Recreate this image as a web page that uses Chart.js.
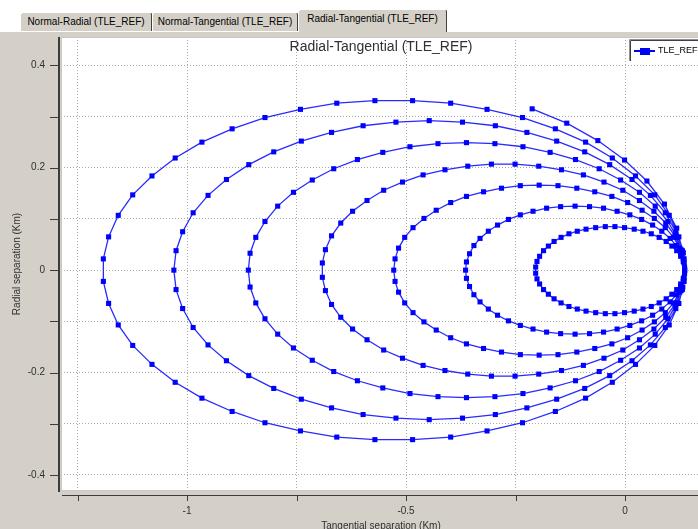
<!DOCTYPE html>
<html>
<head>
<meta charset="utf-8">
<script src="https://cdn.jsdelivr.net/npm/chart.js@4.4.1/dist/chart.umd.min.js"></script>
<style>
html,body{margin:0;padding:0;}
body{width:698px;height:529px;overflow:hidden;position:relative;background:#ffffff;font-family:"Liberation Sans",Arial,sans-serif;}
#panel{position:absolute;left:0;top:31px;width:698px;height:498px;background:#d4d0c8;border-top:1px solid #ffffff;box-sizing:border-box;}
.tab{position:absolute;top:12px;height:19px;box-sizing:border-box;background:#d4d0c8;border-top:1px solid #ffffff;border-left:1px solid #ffffff;border-right:1px solid #404040;border-top-left-radius:3px;border-top-right-radius:3px;font-size:10px;color:#000;text-align:center;line-height:17px;white-space:nowrap;}
.tab.sel{top:9px;height:23px;z-index:2;line-height:18px;}
#wrap{position:absolute;left:0;top:31px;width:720px;height:520px;}
</style>
</head>
<body>
<div id="panel"></div>
<div class="tab" style="left:20px;width:132px;">Normal-Radial (TLE_REF)</div>
<div class="tab" style="left:152px;width:146px;">Normal-Tangential (TLE_REF)</div>
<div class="tab sel" style="left:298px;width:149px;">Radial-Tangential (TLE_REF)</div>
<div id="wrap"><canvas id="c" width="720" height="520"></canvas></div>
<script>
// ---- data (Km), one array pair per revolution ----
const seriesName = 'TLE_REF';
const chartTitle = 'Radial-Tangential (TLE_REF)';
const xTitle = 'Tangential separation (Km)';
const yTitle = 'Radial separation (Km)';

const loop1Tangential = [0.136,0.133,0.127,0.118,0.107,0.094,0.078,0.060,0.041,0.021,-0.001,-0.023,-0.045,-0.067,-0.089,-0.109,-0.128,-0.146,-0.162,-0.175,-0.186,-0.195,-0.201,-0.204,-0.204,-0.201,-0.195,-0.186,-0.175,-0.162,-0.146,-0.128,-0.109,-0.089,-0.067,-0.045,-0.023,-0.001,0.021,0.041,0.060,0.078,0.094,0.107,0.118,0.127,0.133,0.136];
const loop1Radial = [0.006,0.017,0.027,0.038,0.047,0.056,0.064,0.071,0.076,0.080,0.083,0.085,0.085,0.083,0.080,0.076,0.071,0.064,0.056,0.047,0.038,0.027,0.017,0.006,-0.006,-0.017,-0.027,-0.038,-0.047,-0.056,-0.064,-0.071,-0.076,-0.080,-0.083,-0.085,-0.085,-0.083,-0.080,-0.076,-0.071,-0.064,-0.056,-0.047,-0.038,-0.027,-0.017,-0.006];

const loop2Tangential = [0.136,0.134,0.127,0.117,0.103,0.084,0.063,0.038,0.011,-0.018,-0.049,-0.081,-0.114,-0.147,-0.179,-0.210,-0.239,-0.266,-0.291,-0.312,-0.331,-0.345,-0.355,-0.362,-0.364,-0.362,-0.355,-0.345,-0.331,-0.312,-0.291,-0.266,-0.239,-0.210,-0.179,-0.147,-0.114,-0.081,-0.049,-0.018,0.011,0.038,0.063,0.084,0.103,0.117,0.127,0.134];
const loop2Radial = [0,0.016,0.032,0.048,0.062,0.076,0.088,0.099,0.108,0.115,0.121,0.124,0.125,0.124,0.121,0.115,0.108,0.099,0.088,0.076,0.062,0.048,0.032,0.016,0,-0.016,-0.032,-0.048,-0.062,-0.076,-0.088,-0.099,-0.108,-0.115,-0.121,-0.124,-0.125,-0.124,-0.121,-0.115,-0.108,-0.099,-0.088,-0.076,-0.062,-0.048,-0.032,-0.016];

const loop3Tangential = [0.136,0.133,0.125,0.111,0.092,0.067,0.039,0.006,-0.030,-0.069,-0.110,-0.153,-0.196,-0.239,-0.282,-0.323,-0.362,-0.398,-0.431,-0.459,-0.484,-0.503,-0.517,-0.525,-0.528,-0.525,-0.517,-0.503,-0.484,-0.459,-0.431,-0.398,-0.362,-0.323,-0.282,-0.239,-0.196,-0.153,-0.110,-0.069,-0.030,0.006,0.039,0.067,0.092,0.111,0.125,0.133];
const loop3Radial = [0,0.022,0.043,0.064,0.083,0.101,0.117,0.132,0.144,0.153,0.160,0.165,0.166,0.165,0.160,0.153,0.144,0.132,0.117,0.101,0.083,0.064,0.043,0.022,0,-0.022,-0.043,-0.064,-0.083,-0.101,-0.117,-0.132,-0.144,-0.153,-0.160,-0.165,-0.166,-0.165,-0.160,-0.153,-0.144,-0.132,-0.117,-0.101,-0.083,-0.064,-0.043,-0.022];

const loop4Tangential = [0.135,0.128,0.114,0.093,0.066,0.033,-0.005,-0.048,-0.095,-0.145,-0.197,-0.251,-0.305,-0.359,-0.411,-0.461,-0.508,-0.551,-0.589,-0.622,-0.649,-0.670,-0.684,-0.691,-0.691,-0.684,-0.670,-0.649,-0.622,-0.589,-0.551,-0.508,-0.461,-0.411,-0.359,-0.305,-0.251,-0.197,-0.145,-0.095,-0.048,-0.005,0.033,0.066,0.093,0.114,0.128,0.135];
const loop4Radial = [0.014,0.040,0.067,0.092,0.115,0.136,0.156,0.172,0.186,0.196,0.203,0.207,0.207,0.203,0.196,0.186,0.172,0.156,0.136,0.115,0.092,0.067,0.040,0.014,-0.014,-0.040,-0.067,-0.092,-0.115,-0.136,-0.156,-0.172,-0.186,-0.196,-0.203,-0.207,-0.207,-0.203,-0.196,-0.186,-0.172,-0.156,-0.136,-0.115,-0.092,-0.067,-0.040,-0.014];

const loop5Tangential = [0.136,0.132,0.119,0.098,0.069,0.033,-0.010,-0.059,-0.113,-0.171,-0.233,-0.297,-0.362,-0.427,-0.491,-0.553,-0.611,-0.665,-0.714,-0.757,-0.793,-0.822,-0.843,-0.856,-0.860,-0.856,-0.843,-0.822,-0.793,-0.757,-0.714,-0.665,-0.611,-0.553,-0.491,-0.427,-0.362,-0.297,-0.233,-0.171,-0.113,-0.059,-0.010,0.033,0.069,0.098,0.119,0.132];
const loop5Radial = [0,0.033,0.064,0.095,0.125,0.152,0.176,0.198,0.216,0.230,0.241,0.247,0.249,0.247,0.241,0.230,0.216,0.198,0.176,0.152,0.125,0.095,0.064,0.033,0,-0.033,-0.064,-0.095,-0.125,-0.152,-0.176,-0.198,-0.216,-0.230,-0.241,-0.247,-0.249,-0.247,-0.241,-0.230,-0.216,-0.198,-0.176,-0.152,-0.125,-0.095,-0.064,-0.033];

const loop6Tangential = [0.136,0.131,0.116,0.092,0.058,0.016,-0.035,-0.092,-0.156,-0.224,-0.296,-0.371,-0.447,-0.523,-0.598,-0.670,-0.739,-0.802,-0.859,-0.910,-0.952,-0.986,-1.010,-1.025,-1.030,-1.025,-1.010,-0.986,-0.952,-0.910,-0.859,-0.802,-0.739,-0.670,-0.598,-0.523,-0.447,-0.371,-0.296,-0.224,-0.156,-0.092,-0.035,0.016,0.058,0.092,0.116,0.131];
const loop6Radial = [0,0.038,0.075,0.112,0.146,0.177,0.206,0.231,0.252,0.269,0.282,0.289,0.292,0.289,0.282,0.269,0.252,0.231,0.206,0.177,0.146,0.112,0.075,0.038,0,-0.038,-0.075,-0.112,-0.146,-0.177,-0.206,-0.231,-0.252,-0.269,-0.282,-0.289,-0.292,-0.289,-0.282,-0.269,-0.252,-0.231,-0.206,-0.177,-0.146,-0.112,-0.075,-0.038];

const loop7Tangential = [0.135,0.123,0.101,0.068,0.024,-0.029,-0.090,-0.159,-0.234,-0.315,-0.398,-0.485,-0.571,-0.658,-0.741,-0.822,-0.897,-0.966,-1.027,-1.080,-1.124,-1.157,-1.179,-1.191,-1.191,-1.179,-1.157,-1.124,-1.080,-1.027,-0.966,-0.897,-0.822,-0.741,-0.658,-0.571,-0.485,-0.398,-0.315,-0.234,-0.159,-0.090,-0.029,0.024,0.068,0.101,0.123,0.135];
const loop7Radial = [0.022,0.065,0.107,0.147,0.184,0.219,0.250,0.276,0.298,0.314,0.326,0.331,0.331,0.326,0.314,0.298,0.276,0.250,0.219,0.184,0.147,0.107,0.065,0.022,-0.022,-0.065,-0.107,-0.147,-0.184,-0.219,-0.250,-0.276,-0.298,-0.314,-0.326,-0.331,-0.331,-0.326,-0.314,-0.298,-0.276,-0.250,-0.219,-0.184,-0.147,-0.107,-0.065,-0.022];

const loop8Tangential = [0.133,0.118,0.090,0.050,-0.001,-0.062,-0.133,-0.212];
const loop8Radial = [0.034,0.082,0.129,0.174,0.215,0.253,0.287,0.315];

const tangentialTicks = [-1.25,-1,-0.75,-0.5,-0.25,0];
const tangentialTickLabels = ['','-1','','-0.5','','0'];
const radialTicks = [-0.4,-0.3,-0.2,-0.1,0,0.1,0.2,0.3,0.4];
const radialTickLabels = ['-0.4','','-0.2','','0','','0.2','','0.4'];

// ---- build the single dataset ----
const loops = [
  [loop1Tangential, loop1Radial],[loop2Tangential, loop2Radial],[loop3Tangential, loop3Radial],
  [loop4Tangential, loop4Radial],[loop5Tangential, loop5Radial],[loop6Tangential, loop6Radial],
  [loop7Tangential, loop7Radial],[loop8Tangential, loop8Radial]
];
const points = [];
loops.forEach(([tx, ry]) => tx.forEach((v, i) => points.push({x: v, y: ry[i]})));

const FONT = '"Liberation Sans", Arial, sans-serif';
const TXT = '#303030';

const deco = {
  id: 'deco',
  beforeDraw(chart) {
    const {ctx, chartArea: a} = chart;
    ctx.save();
    ctx.fillStyle = '#ffffff';
    ctx.fillRect(a.left, a.top, a.right - a.left, a.bottom - a.top);
    ctx.restore();
  },
  afterDraw(chart) {
    const {ctx, chartArea: a, scales} = chart;
    ctx.save();
    // plot border
    ctx.strokeStyle = '#c8c8c8'; ctx.lineWidth = 1;
    ctx.strokeRect(a.left + 0.5, a.top + 0.5, a.right - a.left - 1, a.bottom - a.top - 1);
    // axis lines
    ctx.fillStyle = '#3c3c3c';
    ctx.fillRect(a.left - 3, a.top, 2, a.bottom - a.top + 1);
    ctx.fillRect(a.left + 1, a.bottom + 4, chart.width, 1);
    // tick marks
    ctx.strokeStyle = '#3c3c3c'; ctx.lineWidth = 1;
    scales.y.ticks.forEach(t => {
      const p = Math.round(scales.y.getPixelForValue(t.value)) + 0.5;
      ctx.beginPath(); ctx.moveTo(a.left - 11, p); ctx.lineTo(a.left - 3, p); ctx.stroke();
    });
    scales.x.ticks.forEach(t => {
      const p = Math.round(scales.x.getPixelForValue(t.value)) + 0.5;
      ctx.beginPath(); ctx.moveTo(p, a.bottom + 5); ctx.lineTo(p, a.bottom + 10); ctx.stroke();
    });
    // chart title
    ctx.fillStyle = TXT;
    ctx.font = '14px ' + FONT;
    ctx.textAlign = 'center'; ctx.textBaseline = 'middle';
    ctx.fillText(chartTitle, 381, 16);
    // legend box
    const lx = 629, ly = 8;
    ctx.fillStyle = '#ffffff';
    ctx.fillRect(lx, ly, 100, 22);
    ctx.strokeStyle = '#909090';
    ctx.beginPath(); ctx.moveTo(lx + 0.5, ly + 22); ctx.lineTo(lx + 0.5, ly + 0.5); ctx.lineTo(lx + 100, ly + 0.5); ctx.stroke();
    ctx.strokeStyle = '#404040';
    ctx.beginPath(); ctx.moveTo(lx + 1.5, ly + 22); ctx.lineTo(lx + 1.5, ly + 1.5); ctx.lineTo(lx + 100, ly + 1.5); ctx.stroke();
    const ds = chart.data.datasets[0];
    ctx.strokeStyle = '#0000ff'; ctx.lineWidth = 2;
    ctx.beginPath(); ctx.moveTo(lx + 5, ly + 12); ctx.lineTo(lx + 26, ly + 12); ctx.stroke();
    ctx.fillStyle = '#0000ff';
    ctx.fillRect(lx + 11, ly + 9, 10, 7);
    ctx.fillStyle = '#000000';
    ctx.font = '9px ' + FONT;
    ctx.textAlign = 'left';
    ctx.fillText(ds.label, lx + 29, ly + 12);
    ctx.restore();
  }
};

new Chart(document.getElementById('c'), {
  type: 'scatter',
  data: {
    datasets: [{
      label: seriesName,
      data: points,
      showLine: true,
      tension: 0,
      borderColor: '#2a2aff',
      borderWidth: 1.3,
      pointStyle: 'rect',
      pointRadius: 3.6,
      pointBackgroundColor: '#0000ff',
      pointBorderWidth: 0,
      pointBorderColor: '#0000ff'
    }]
  },
  options: {
    responsive: false,
    animation: false,
    devicePixelRatio: 1,
    events: [],
    layout: {padding: {left: 0, top: 6, right: 19, bottom: 0}},
    plugins: {legend: {display: false}, tooltip: {enabled: false}, title: {display: false}},
    scales: {
      x: {
        type: 'linear', position: 'bottom',
        min: -1.2877, max: 0.1735,
        afterBuildTicks: s => { s.ticks = tangentialTicks.map(v => ({value: v})); },
        afterFit: s => { s.height = 60; },
        ticks: {autoSkip: false, maxRotation: 0, padding: 0, color: TXT, font: {family: FONT, size: 10},
                callback: (v, i) => tangentialTickLabels[i]},
        grid: {color: '#ababab', lineWidth: 1, drawTicks: true, tickLength: 14, tickColor: 'rgba(0,0,0,0)'},
        border: {display: false, dash: [1, 2]},
        title: {display: true, text: xTitle, color: TXT, font: {family: FONT, size: 10}, padding: {top: 0, bottom: 19}}
      },
      y: {
        type: 'linear', position: 'left',
        min: -0.4313, max: 0.4553,
        afterBuildTicks: s => { s.ticks = radialTicks.map(v => ({value: v})); },
        afterFit: s => { s.width = 61; },
        ticks: {autoSkip: false, padding: 0, color: TXT, font: {family: FONT, size: 10},
                callback: (v, i) => radialTickLabels[i]},
        grid: {color: '#ababab', lineWidth: 1, drawTicks: true, tickLength: 16, tickColor: 'rgba(0,0,0,0)'},
        border: {display: false, dash: [1, 2]},
        title: {display: true, text: yTitle, color: TXT, font: {family: FONT, size: 10}, padding: {top: 11, bottom: 0}}
      }
    }
  },
  plugins: [deco]
});
</script>
</body>
</html>
